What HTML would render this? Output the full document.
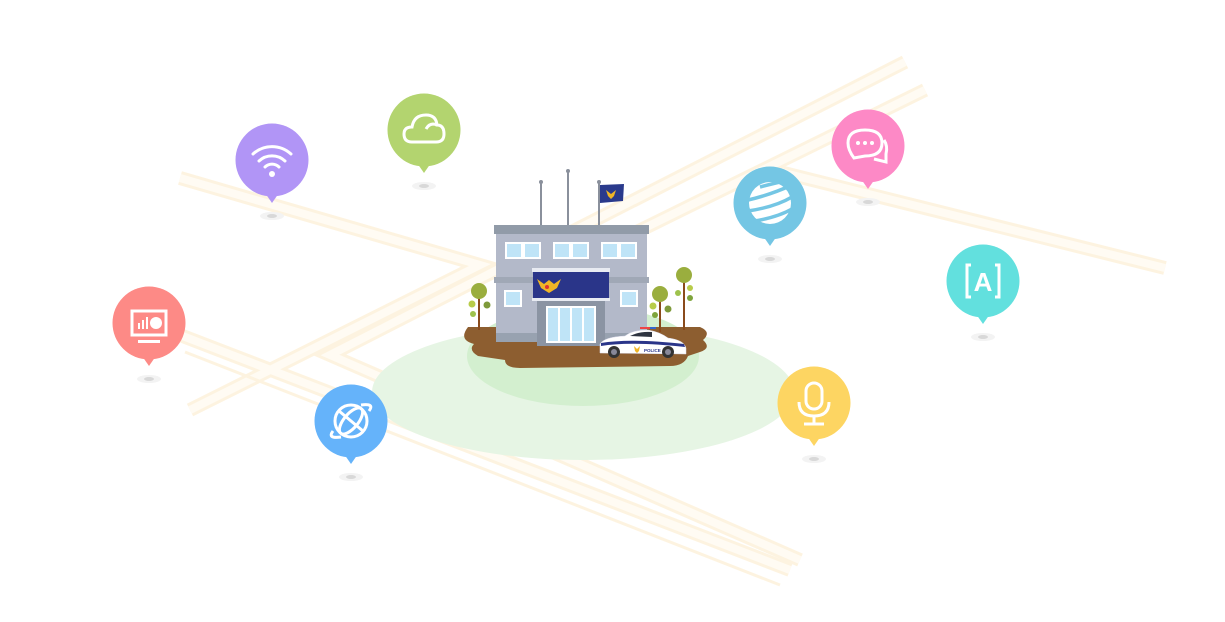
<!DOCTYPE html>
<html><head><meta charset="utf-8"><style>
html,body{margin:0;padding:0;background:#fff;width:1225px;height:622px;overflow:hidden}
svg{display:block}
</style></head><body>
<svg width="1225" height="622" viewBox="0 0 1225 622" xmlns="http://www.w3.org/2000/svg" font-family="Liberation Sans, sans-serif">
<!-- roads -->
<g fill="none" stroke-linecap="butt" opacity="0.55">
 <g stroke="#fcebc8" stroke-width="14">
  <polyline points="180,178 480,265 190,410"/>
  <polyline points="905,62 330,355 800,560"/>
  <line x1="180" y1="335" x2="790" y2="570"/>
  <line x1="780" y1="172" x2="1165" y2="268"/>
  <line x1="925" y1="90" x2="600" y2="250"/>
 </g>
 <g stroke="#fff8ea" stroke-width="8">
  <polyline points="180,178 480,265 190,410"/>
  <polyline points="905,62 330,355 800,560"/>
  <line x1="180" y1="335" x2="790" y2="570"/>
  <line x1="780" y1="172" x2="1165" y2="268"/>
  <line x1="925" y1="90" x2="600" y2="250"/>
 </g>
 <g stroke="#fcebc8" stroke-width="3">
  <line x1="185" y1="352" x2="780" y2="585"/>
 </g>
</g>
<!-- green areas -->
<ellipse cx="583" cy="392" rx="211" ry="68" fill="#e6f5e4"/>
<ellipse cx="583" cy="356" rx="116" ry="50" fill="#d3efcf"/>
<!-- ground -->
<path d="M468,327 L700,327 Q712,332 703,340 Q712,348 700,352 L688,356 Q684,366 670,366 L520,368 Q505,368 505,360 L478,356 Q468,350 474,344 Q458,340 468,327Z" fill="#8d5e30"/>
<!-- trees -->
<g stroke="#8a4b1c" stroke-width="2">
 <line x1="479" y1="292" x2="479" y2="330"/><line x1="660" y1="298" x2="660" y2="332"/><line x1="684" y1="276" x2="684" y2="330"/>
</g>
<circle cx="479" cy="291" r="8" fill="#9aae3e"/><circle cx="472" cy="304" r="3.5" fill="#b8cc4a"/><circle cx="487" cy="305" r="3.5" fill="#7e9a3a"/><circle cx="473" cy="314" r="3" fill="#9ec24c"/>
<circle cx="660" cy="294" r="8" fill="#9aae3e"/><circle cx="653" cy="306" r="3.5" fill="#b8cc4a"/><circle cx="668" cy="309" r="3.5" fill="#7e9a3a"/><circle cx="655" cy="315" r="3" fill="#7ea43c"/>
<circle cx="684" cy="275" r="8" fill="#9aae3e"/><circle cx="690" cy="288" r="3" fill="#b8cc4a"/><circle cx="678" cy="293" r="3" fill="#9ec24c"/><circle cx="690" cy="298" r="3" fill="#7ea43c"/>
<!-- poles & flag -->
<g stroke="#8a909c" stroke-width="2"><line x1="541" y1="182" x2="541" y2="226"/><line x1="568" y1="171" x2="568" y2="226"/><line x1="599" y1="182" x2="599" y2="226"/></g>
<circle cx="541" cy="182" r="2" fill="#8a909c"/><circle cx="568" cy="171" r="2" fill="#8a909c"/><circle cx="599" cy="182" r="2" fill="#8a909c"/>
<path d="M600,185 L624,184 L623,201 L600,203Z" fill="#2a3a8c"/><path d="M606,190 l5,4 l5,-4 l-2,6 l-3,3 l-3,-3z" fill="#f0b526"/>
<!-- building -->
<rect x="496" y="232" width="151" height="110" fill="#b3b9c9"/>
<rect x="494" y="225" width="155" height="9" fill="#919ba8"/>
<rect x="494" y="277" width="155" height="6" fill="#a0a8b6"/>
<rect x="496" y="333" width="151" height="9" fill="#98a2b0"/>
<g fill="#fff"><rect x="505" y="242" width="36" height="17"/><rect x="553" y="242" width="36" height="17"/><rect x="601" y="242" width="36" height="17"/><rect x="504" y="290" width="18" height="17"/><rect x="620" y="290" width="18" height="17"/></g>
<g fill="#bfe4f7"><rect x="507" y="244" width="14" height="13"/><rect x="525" y="244" width="14" height="13"/><rect x="555" y="244" width="14" height="13"/><rect x="573" y="244" width="14" height="13"/><rect x="603" y="244" width="14" height="13"/><rect x="621" y="244" width="14" height="13"/><rect x="506" y="292" width="14" height="13"/><rect x="622" y="292" width="14" height="13"/></g>
<rect x="532" y="268" width="78" height="4" fill="#e8ebf2"/>
<rect x="533" y="272" width="76" height="26" fill="#2a3589"/>
<rect x="532" y="298" width="78" height="3" fill="#e8ebf2"/>
<path d="M537,279 l7,5 l5,-4 l5,4 l7,-5 l-4,9 l-8,5 l-8,-5z" fill="#f0b526"/><circle cx="547" cy="287" r="2" fill="#d33"/>
<rect x="537" y="301" width="68" height="45" fill="#8b94a3"/>
<rect x="546" y="306" width="50" height="37" fill="#fff"/>
<g fill="#bfe4f7"><rect x="548" y="308" width="10" height="33"/><rect x="560" y="308" width="10" height="33"/><rect x="572" y="308" width="10" height="33"/><rect x="584" y="308" width="10" height="33"/></g>
<!-- car -->
<path d="M600,353 L600,344 Q604,337 625,336 Q632,330 648,330 Q660,332 668,338 Q684,340 686,348 L686,354 Z" fill="#fff" stroke="#dde" stroke-width="0.5"/>
<path d="M601,343 Q630,338 684,344 L685,347 Q630,341 601,346Z" fill="#2a3589"/>
<path d="M630,336 Q640,331 652,332 L652,337Z" fill="#2e3440"/>
<rect x="640" y="327" width="10" height="2" fill="#e44"/><rect x="650" y="327" width="6" height="2" fill="#36c"/>
<circle cx="614" cy="352" r="6" fill="#333"/><circle cx="614" cy="352" r="3" fill="#889"/>
<circle cx="668" cy="352" r="6" fill="#333"/><circle cx="668" cy="352" r="3" fill="#889"/>
<text x="644" y="352" font-size="4.5" font-weight="bold" fill="#2a3589">POLICE</text>
<path d="M634,346 l3,3 l3,-3 l-1,5 l-2,2 l-2,-2z" fill="#f0b526"/>
<!-- pins -->
<g id="pins">
 <g transform="translate(272,160)"><ellipse cx="0" cy="56" rx="12" ry="4" fill="#f3f3f3"/><ellipse cx="0" cy="56" rx="5" ry="2" fill="#d8d8d8"/><circle r="36.5" fill="#b195f6"/><path d="M-9,30 L0,43 L9,30Z" fill="#b195f6"/>
  <g fill="none" stroke="#fff" stroke-width="3" stroke-linecap="round"><path d="M-19,-6 A28,28 0 0 1 19,-6"/><path d="M-13,1 A19,19 0 0 1 13,1"/><path d="M-7,7 A10,10 0 0 1 7,7"/></g><circle cy="14" r="3" fill="#fff"/></g>
 <g transform="translate(424,130)"><ellipse cx="0" cy="56" rx="12" ry="4" fill="#f3f3f3"/><ellipse cx="0" cy="56" rx="5" ry="2" fill="#d8d8d8"/><circle r="36.5" fill="#b3d46f"/><path d="M-9,30 L0,43 L9,30Z" fill="#b3d46f"/>
  <path d="M-12,12 Q-20,12 -20,4 Q-20,-3 -12,-3 Q-10,-15 2,-15 Q12,-15 13,-5 Q20,-5 20,4 Q20,12 12,12Z M2,-1 Q6,-8 13,-5" fill="none" stroke="#fff" stroke-width="3"/></g>
 <g transform="translate(149,323)"><ellipse cx="0" cy="56" rx="12" ry="4" fill="#f3f3f3"/><ellipse cx="0" cy="56" rx="5" ry="2" fill="#d8d8d8"/><circle r="36.5" fill="#fd8a86"/><path d="M-9,30 L0,43 L9,30Z" fill="#fd8a86"/>
  <rect x="-17" y="-12" width="34" height="24" fill="none" stroke="#fff" stroke-width="3"/><rect x="-11" y="17" width="22" height="3" fill="#fff"/><rect x="-11" y="0" width="2" height="6" fill="#fff"/><rect x="-7" y="-3" width="2" height="9" fill="#fff"/><rect x="-3" y="-6" width="2" height="12" fill="#fff"/><circle cx="7" cy="0" r="6" fill="#fff"/></g>
 <g transform="translate(351,421)"><ellipse cx="0" cy="56" rx="12" ry="4" fill="#f3f3f3"/><ellipse cx="0" cy="56" rx="5" ry="2" fill="#d8d8d8"/><circle r="36.5" fill="#65b3fa"/><path d="M-9,30 L0,43 L9,30Z" fill="#65b3fa"/>
  <g fill="none" stroke="#fff" stroke-width="3"><circle r="16"/><ellipse rx="7" ry="16" transform="rotate(40)"/><line x1="-16" y1="0" x2="16" y2="0" transform="rotate(40)"/><path d="M-18,10 Q-24,18 -10,16 M18,-10 Q24,-18 10,-16"/></g></g>
 <g transform="translate(770,203)"><ellipse cx="0" cy="56" rx="12" ry="4" fill="#f3f3f3"/><ellipse cx="0" cy="56" rx="5" ry="2" fill="#d8d8d8"/><circle r="36.5" fill="#74c6e4"/><path d="M-9,30 L0,43 L9,30Z" fill="#74c6e4"/>
  <circle r="21" fill="#fff"/><g stroke="#74c6e4" stroke-width="3.5" fill="none"><path d="M-22,-3 Q0,-8 22,-18"/><path d="M-22,8 Q5,4 22,-6"/><path d="M-15,18 Q8,14 22,6"/><path d="M-10,-16 Q5,-20 15,-22"/></g></g>
 <g transform="translate(868,146)"><ellipse cx="0" cy="56" rx="12" ry="4" fill="#f3f3f3"/><ellipse cx="0" cy="56" rx="5" ry="2" fill="#d8d8d8"/><circle r="36.5" fill="#fd89c6"/><path d="M-9,30 L0,43 L9,30Z" fill="#fd89c6"/>
  <path d="M-14,12 Q-20,4 -20,-3 Q-20,-16 -3,-16 Q14,-16 14,-3 Q14,10 -3,10 L-14,12Z M16,-6 Q20,0 18,8 L18,16 L6,13" fill="none" stroke="#fff" stroke-width="3"/><circle cx="-10" cy="-3" r="2" fill="#fff"/><circle cx="-3" cy="-3" r="2" fill="#fff"/><circle cx="4" cy="-3" r="2" fill="#fff"/></g>
 <g transform="translate(983,281)"><ellipse cx="0" cy="56" rx="12" ry="4" fill="#f3f3f3"/><ellipse cx="0" cy="56" rx="5" ry="2" fill="#d8d8d8"/><circle r="36.5" fill="#62e0de"/><path d="M-9,30 L0,43 L9,30Z" fill="#62e0de"/>
  <path d="M-12,-16 L-16,-16 L-16,16 L-12,16 M12,-16 L16,-16 L16,16 L12,16" fill="none" stroke="#fff" stroke-width="3"/><text x="0" y="10" text-anchor="middle" font-size="26" font-weight="bold" fill="#fff">A</text></g>
 <g transform="translate(814,403)"><ellipse cx="0" cy="56" rx="12" ry="4" fill="#f3f3f3"/><ellipse cx="0" cy="56" rx="5" ry="2" fill="#d8d8d8"/><circle r="36.5" fill="#fdd562"/><path d="M-9,30 L0,43 L9,30Z" fill="#fdd562"/>
  <g fill="none" stroke="#fff" stroke-width="3"><rect x="-8" y="-20" width="16" height="26" rx="8"/><path d="M-15,-1 Q-15,13 0,13 Q15,13 15,-1"/><line x1="0" y1="13" x2="0" y2="20"/><line x1="-10" y1="21" x2="10" y2="21"/></g></g>
</g>
</svg>
</body></html>
